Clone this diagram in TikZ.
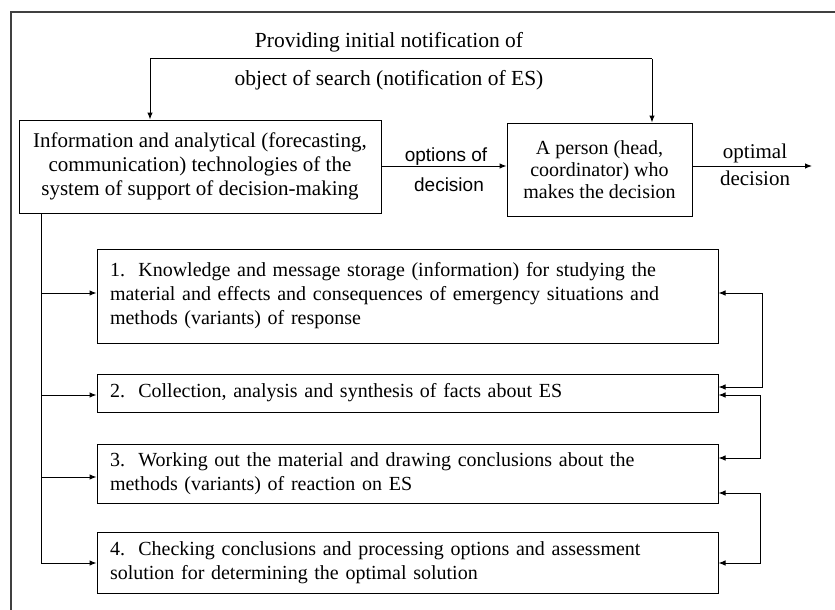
\documentclass[tikz,border=0pt]{standalone}
\usepackage{fontspec}
\setmainfont{Liberation Serif}
\newfontfamily\sansf{Liberation Sans}
\usetikzlibrary{arrows.meta}
\begin{document}
\begin{tikzpicture}[x=1pt,y=-1pt,
  every node/.style={font=\fontsize{20}{24}\selectfont},
  box/.style={draw,line width=1pt,inner sep=0pt},
  lbox/.style={box,align=left,text width=#1},
  cbox/.style={box,align=center},
  lbl/.style={inner sep=0pt,align=center},
  arr/.style={line width=1pt,-{Latex[length=7pt,width=5.5pt]}},
  darr/.style={line width=1pt,{Latex[length=7pt,width=5.5pt]}-{Latex[length=7pt,width=5.5pt]}},
  frame/.style={line width=1.3pt,draw=black!75}]
\useasboundingbox (0,0) rectangle (835,610);
\draw[frame] (11,610) -- (11,12) -- (835,12);

% top boxes
\node[cbox,minimum width=362pt,minimum height=93pt,font=\fontsize{21}{24}\selectfont] (info) at (200,166.5)
  {Information and analytical (forecasting,\\communication) technologies of the\\system of support of decision-making};
\node[cbox,minimum width=185pt,minimum height=93pt,font=\fontsize{20}{22}\selectfont] (pers) at (599.5,169.5)
  {A person (head,\\coordinator) who\\makes the decision};

% top notification
\node[lbl,font=\fontsize{21.5}{24}\selectfont] (t1) at (389,42) {Providing initial notification of};
\node[lbl,font=\fontsize{21.5}{24}\selectfont] (t2) at (389,80) {object of search (notification of ES)};
\coordinate (nl) at (150,59);
\coordinate (nr) at (652,59);
\draw[arr] (nl) -- (nl |- info.north);
\draw[arr] (nr) -- (nr |- pers.north);
\draw[line width=1pt] (nl) -- (nr);

% options of decision
\coordinate (mid) at (0,166);
\draw[arr] (info.east |- mid) -- (pers.west |- mid);
\node[lbl,font=\sansf\fontsize{19}{22}\selectfont] (o1) at (446,157) {options of};
\node[lbl,font=\sansf\fontsize{19}{22}\selectfont] (o2) at (449,185) {decision};
\coordinate (outend) at (812,166);
\draw[arr] (pers.east |- mid) -- (outend);
\node[lbl,font=\fontsize{21}{24}\selectfont] (p1) at (755,153) {optimal};
\node[lbl,font=\fontsize{21}{24}\selectfont] (p2) at (755,178) {decision};

% lower boxes
\node[lbox=595pt,minimum width=621pt,minimum height=94pt] (b1) at (407.5,296)
  {1.\ \ Knowledge and message storage (information) for studying the\\material and effects and consequences of emergency situations and\\methods (variants) of response};
\node[lbox=595pt,minimum width=621pt,minimum height=38pt] (b2) at (407.5,393)
  {2.\ \ Collection, analysis and synthesis of facts about ES};
\node[lbox=595pt,minimum width=621pt,minimum height=59pt] (b3) at (407.5,473.5)
  {3.\ \ Working out the material and drawing conclusions about the\\methods (variants) of reaction on ES};
\node[lbox=595pt,minimum width=621pt,minimum height=61pt] (b4) at (407.5,562.5)
  {4.\ \ Checking conclusions and processing options and assessment\\solution for determining the optimal solution};

% trunk
\coordinate (tk) at (41,0);
\coordinate (k1) at (41,293);
\coordinate (k2) at (41,395);
\coordinate (k3) at (41,477);
\coordinate (k4) at (41,563);
\draw[line width=1pt] (tk |- info.south) -- (k4);
\draw[arr] (k1) -- (k1 -| b1.west);
\draw[arr] (k2) -- (k2 -| b2.west);
\draw[arr] (k3) -- (k3 -| b3.west);
\draw[arr] (k4) -- (k4 -| b4.west);

% right feedback
\coordinate (r1a) at (762,293);
\coordinate (r1b) at (762,387);
\coordinate (r2a) at (760,395);
\coordinate (r2b) at (760,458);
\coordinate (r3a) at (760,493);
\coordinate (r3b) at (760,563);
\draw[darr] (r1a -| b1.east) -- (r1a) -- (r1b) -- (r1b -| b2.east);
\draw[darr] (r2a -| b2.east) -- (r2a) -- (r2b) -- (r2b -| b3.east);
\draw[darr] (r3a -| b3.east) -- (r3a) -- (r3b) -- (r3b -| b4.east);
\end{tikzpicture}
\end{document}
